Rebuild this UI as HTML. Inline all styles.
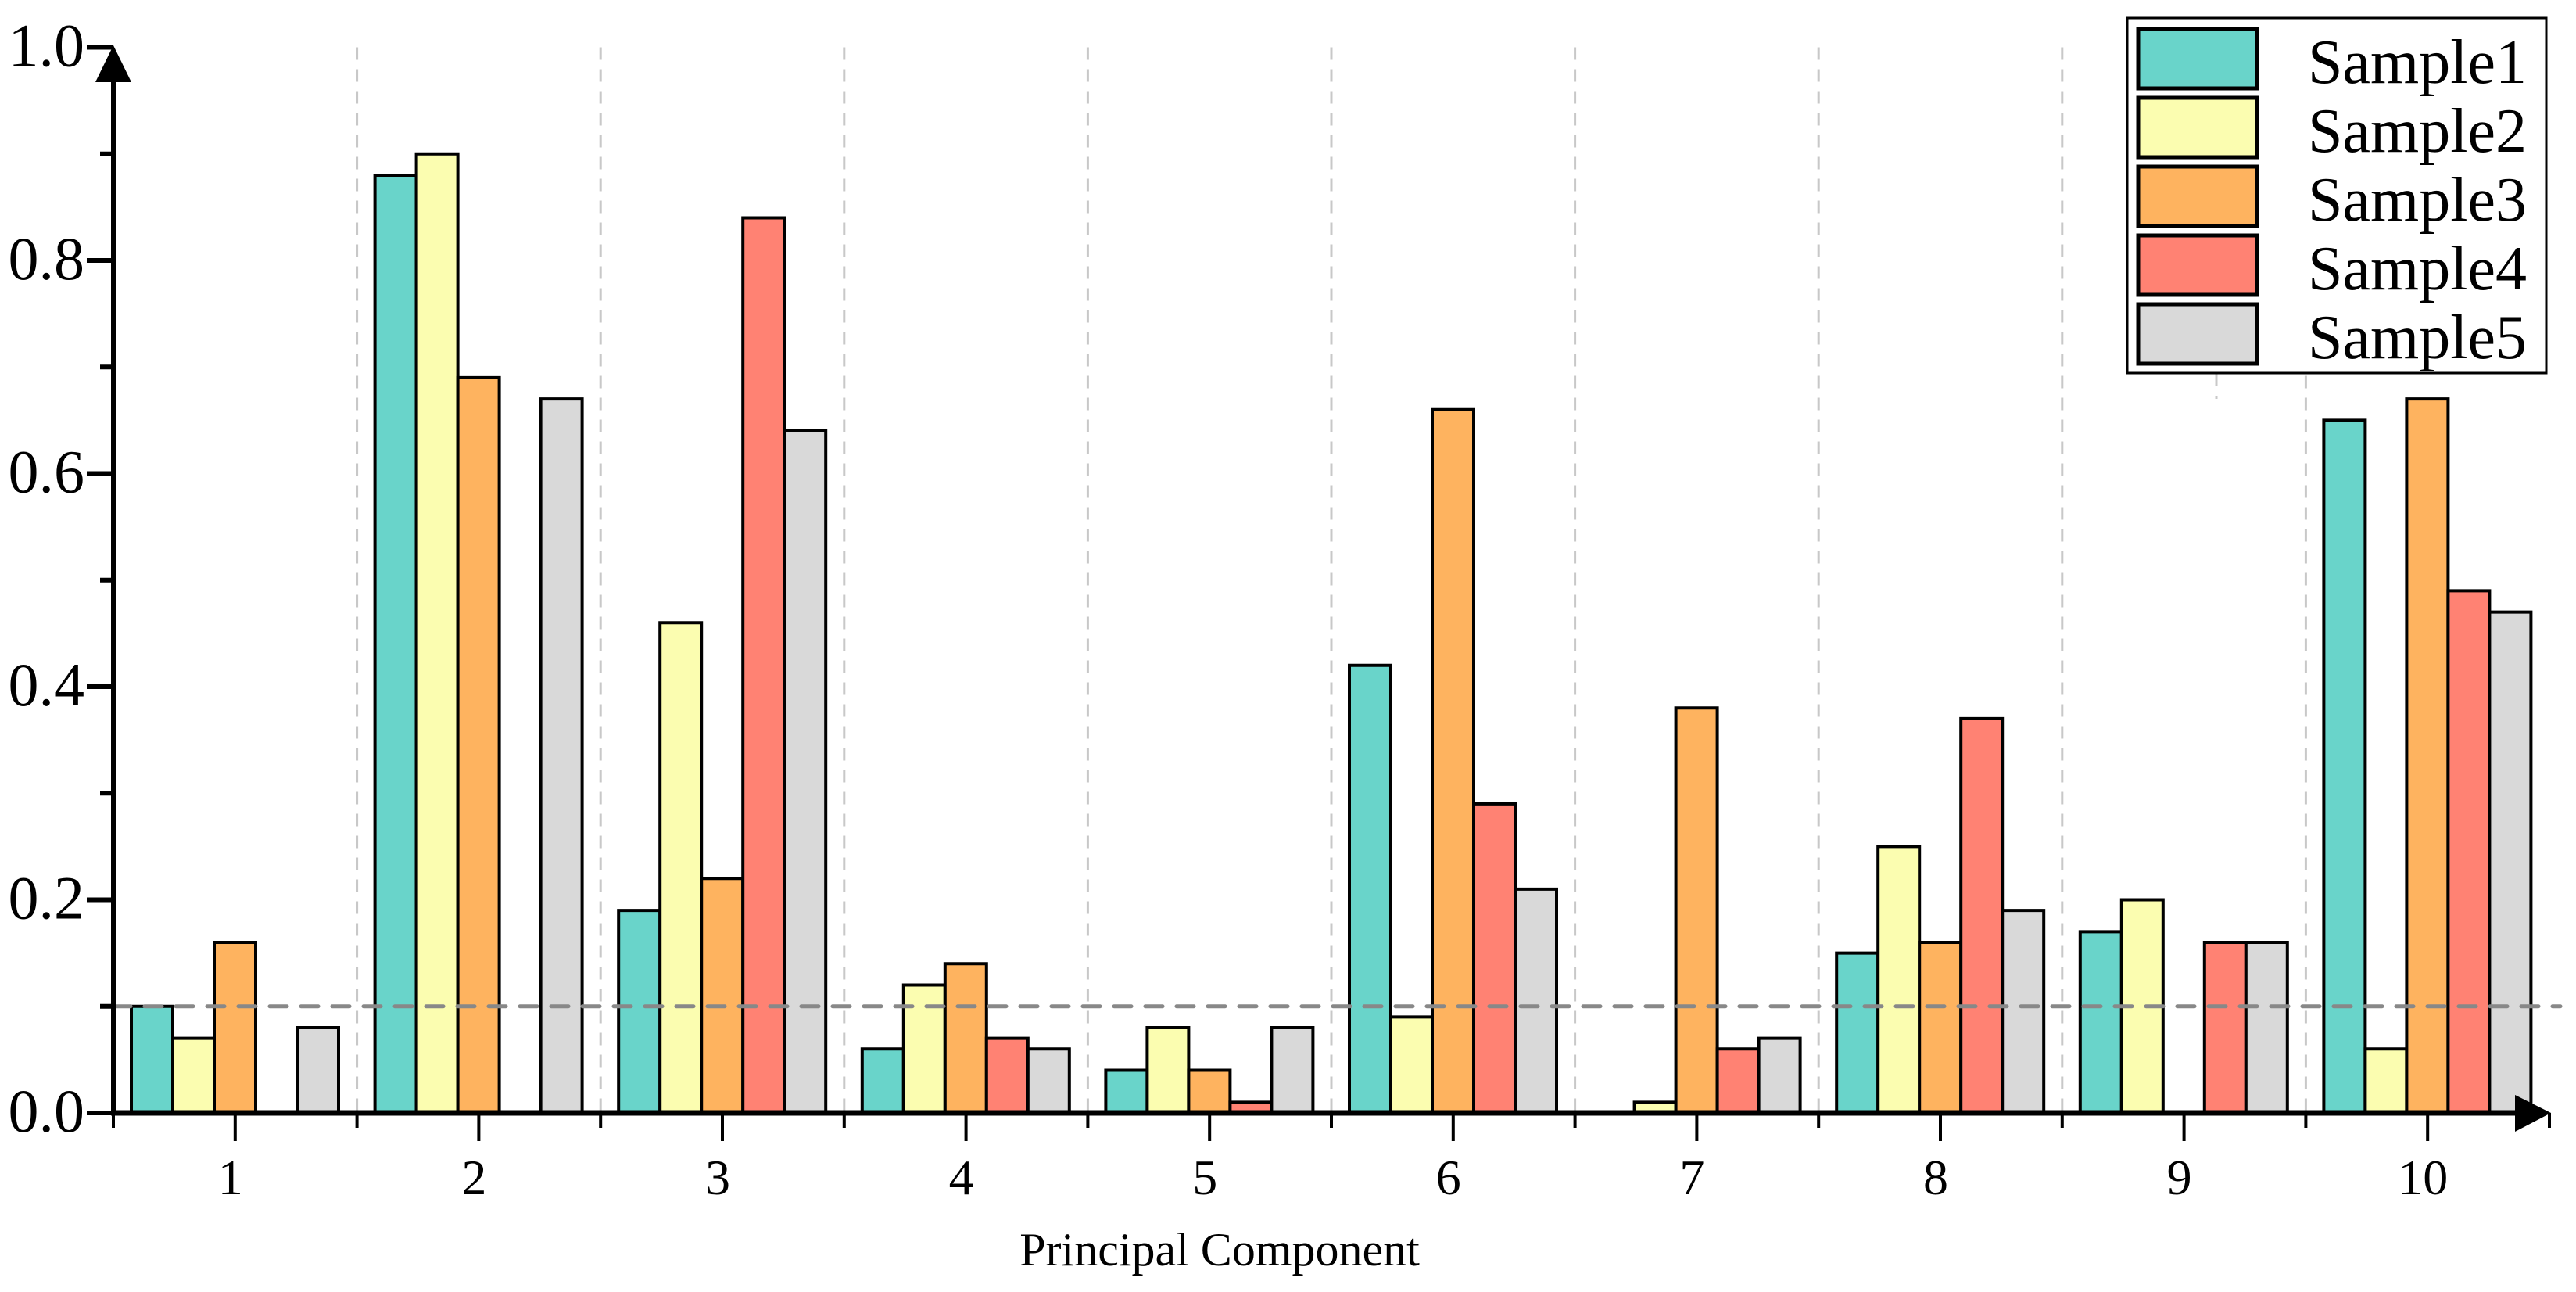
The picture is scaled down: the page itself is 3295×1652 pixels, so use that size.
<!DOCTYPE html>
<html><head><meta charset="utf-8"><style>
html,body{margin:0;padding:0;background:#fff;}
svg{display:block;}
text{font-family:"Liberation Serif",serif;fill:#000;}
</style></head><body>
<svg id="chart" width="3295" height="1652" viewBox="0 0 3295 1652" xmlns="http://www.w3.org/2000/svg">
<g id="grid"></g>
<g id="bars"></g>
<g id="axes"></g>
<g id="legend"></g>
</svg>
<script>
const categories = ["1","2","3","4","5","6","7","8","9","10"];
const seriesNames = ["Sample1","Sample2","Sample3","Sample4","Sample5"];
const sample1 = [0.10,0.88,0.19,0.06,0.04,0.42,0.00,0.15,0.17,0.65];
const sample2 = [0.07,0.90,0.46,0.12,0.08,0.09,0.01,0.25,0.20,0.06];
const sample3 = [0.16,0.69,0.22,0.14,0.04,0.66,0.38,0.16,0.00,0.67];
const sample4 = [0.00,0.00,0.84,0.07,0.01,0.29,0.06,0.37,0.16,0.49];
const sample5 = [0.08,0.67,0.64,0.06,0.08,0.21,0.07,0.19,0.16,0.47];
const yTicks = [0.0,0.2,0.4,0.6,0.8,1.0];
const yTickLabels = ["0.0","0.2","0.4","0.6","0.8","1.0"];
const yMinorTicks = [0.1,0.3,0.5,0.7,0.9];
const threshold = 0.1;

const series = [sample1,sample2,sample3,sample4,sample5];
const colors = ["#69d4ca","#fbfdb0","#feb35f","#ff8273","#d9d9d9"];
const NS = "http://www.w3.org/2000/svg";
const X0 = 145, CW = 311.6, Y0 = 1423, PX_PER = 1362.5;
const BW = 53, BOFF = 23;
const yScale = v => Y0 - v * PX_PER;
const xLeft = i => X0 + i * CW;
function mk(tag, attrs, parent){const e=document.createElementNS(NS,tag);for(const k in attrs)e.setAttribute(k,attrs[k]);parent.appendChild(e);return e;}
const grid=document.getElementById('grid'), bars=document.getElementById('bars'), axes=document.getElementById('axes'), legend=document.getElementById('legend');

// vertical dashed separators
for(let i=1;i<categories.length;i++){
  const l=mk('line',{x1:xLeft(i),x2:xLeft(i),y1:yScale(1.0),y2:Y0,stroke:'#c8c8c8','stroke-width':3,'stroke-dasharray':'16 12'},grid);
  
  
}
const stub=mk('line',{x1:2835,x2:2835,y1:478,y2:510,stroke:'#c8c8c8','stroke-width':3,'stroke-dasharray':'16 12'},grid);



// bars
series.forEach((vals,s)=>{
  vals.forEach((v,i)=>{
    if(v<=0) return;
    const x=xLeft(i)+BOFF+s*BW, y=yScale(v);
    const r=mk('rect',{x:x,y:y,width:BW,height:Y0-y,fill:colors[s],stroke:'#000','stroke-width':4},bars);
    
    
  });
});

// threshold
const th=mk('line',{x1:X0,x2:3275,y1:yScale(threshold),y2:yScale(threshold),stroke:'#888','stroke-width':5,'stroke-dasharray':'22 18','stroke-linecap':'round'},axes);



// y axis
const ya=mk('line',{x1:X0,x2:X0,y1:100,y2:Y0+3,stroke:'#000','stroke-width':6},axes);


const yar=mk('polygon',{points:`${X0-23},105 ${X0+23},105 ${X0},58`,fill:'#000'},axes);


yTicks.forEach((v,i)=>{
  const y=yScale(v);
  const t=mk('line',{x1:111,x2:X0,y1:y,y2:y,stroke:'#000','stroke-width':6},axes);
  
  
  const tx=mk('text',{x:108,y:y+24,'font-size':78,'text-anchor':'end'},axes);
  tx.textContent=yTickLabels[i];
  
  
});
yMinorTicks.forEach(v=>{
  const y=yScale(v);
  const t=mk('line',{x1:128,x2:X0,y1:y,y2:y,stroke:'#000','stroke-width':6},axes);
  
  
});

// x axis
const xa=mk('line',{x1:X0-3,x2:3225,y1:Y0,y2:Y0,stroke:'#000','stroke-width':7},axes);


const xar=mk('polygon',{points:`3217,1400 3217,1447 3263,1423`,fill:'#000'},axes);


for(let i=0;i<=categories.length;i++){
  const t=mk('line',{x1:xLeft(i),x2:xLeft(i),y1:Y0,y2:1442,stroke:'#000','stroke-width':4},axes);
  
  
}
categories.forEach((c,i)=>{
  const cx=xLeft(i)+CW/2;
  const t=mk('line',{x1:cx,x2:cx,y1:Y0,y2:1459,stroke:'#000','stroke-width':4},axes);
  
  
  const tx=mk('text',{x:cx-6,y:1527,'font-size':64,'text-anchor':'middle'},axes);
  tx.textContent=c;
  
  
});
const xt=mk('text',{x:1560,y:1618,'font-size':60,'text-anchor':'middle'},axes);
xt.textContent='Principal Component';



// legend
const lb=mk('rect',{x:2721,y:23,width:536,height:454,fill:'#fff',stroke:'#000','stroke-width':3},legend);


seriesNames.forEach((n,s)=>{
  const y=37+s*88;
  const sw=mk('rect',{x:2735,y:y,width:152,height:76,fill:colors[s],stroke:'#000','stroke-width':5},legend);
  
  
  const tx=mk('text',{x:2952,y:y+69,'font-size':80},legend);
  tx.textContent=n;
  
  
});
</script>
</body></html>
